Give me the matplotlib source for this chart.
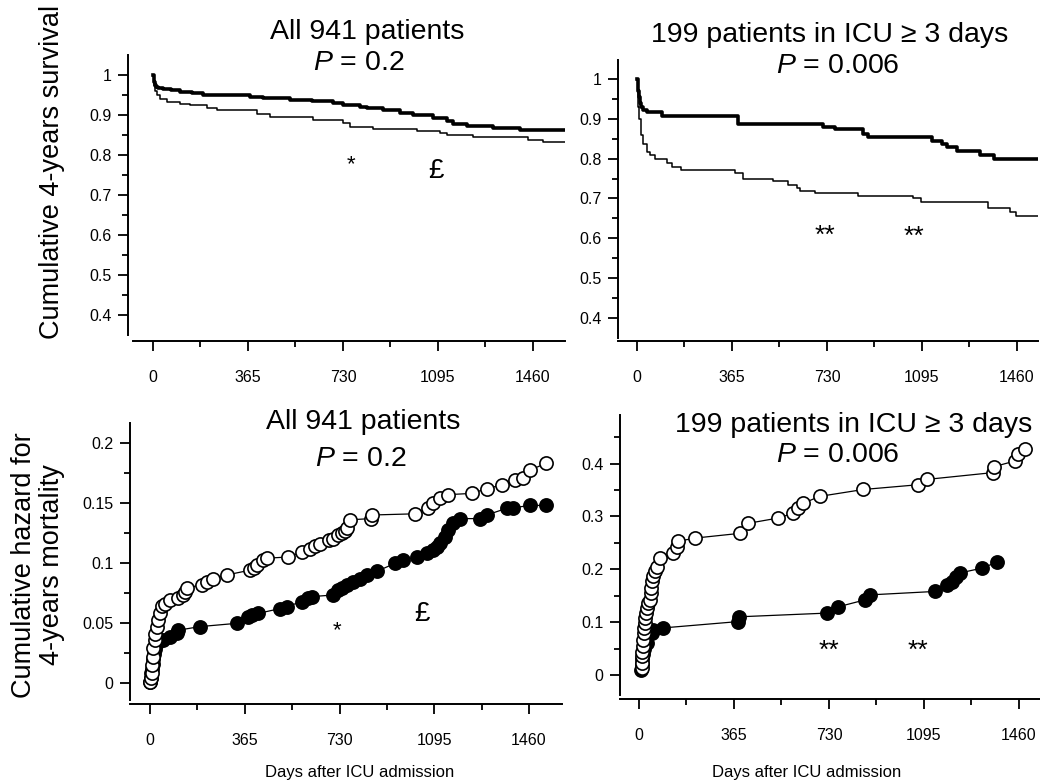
import numpy as np
import matplotlib.pyplot as plt
from matplotlib.ticker import FixedLocator

plt.rcParams['font.family'] = ['Liberation Sans', 'DejaVu Sans']
plt.rcParams['mathtext.fontset'] = 'custom'
plt.rcParams['mathtext.it'] = 'Liberation Sans:italic'
plt.rcParams['mathtext.rm'] = 'Liberation Sans'

W, H = 1040, 782

# --- Kaplan-Meier survival, all 941 patients (step points: day, survival)
all_thick_t = [0, 2, 4, 7, 12, 20, 40, 70, 104, 150, 193, 373, 424, 527, 610, 693, 731, 795, 821, 885,
               949, 1000, 1077, 1128, 1154, 1205, 1307, 1410, 1583]
all_thick_s = [1.0, 0.99, 0.982, 0.975, 0.97, 0.967, 0.965, 0.962, 0.958, 0.955, 0.95, 0.946, 0.943, 0.938,
               0.935, 0.93, 0.925, 0.921, 0.917, 0.912, 0.905, 0.9, 0.892, 0.885, 0.877, 0.873, 0.8675, 0.863, 0.8625]
all_thin_t = [0, 2, 5, 9, 14, 26, 52, 104, 142, 206, 245, 399, 450, 616, 731, 757, 847, 1013, 1103, 1128,
              1231, 1440, 1500, 1583]
all_thin_s = [1.0, 0.985, 0.972, 0.96, 0.95, 0.94, 0.933, 0.928, 0.924, 0.918, 0.912, 0.902, 0.895, 0.888,
              0.88, 0.871, 0.866, 0.861, 0.855, 0.85, 0.844, 0.838, 0.833, 0.833]

# --- Kaplan-Meier survival, 199 patients in ICU >= 3 days
icu_thick_t = [0, 2, 4, 6, 10, 15, 24, 40, 95, 389, 716, 761, 870, 889, 1133, 1171, 1190, 1229, 1318, 1370, 1541]
icu_thick_s = [1.0, 0.985, 0.97, 0.955, 0.94, 0.93, 0.922, 0.918, 0.907, 0.887, 0.879, 0.874, 0.863, 0.855,
               0.845, 0.836, 0.83, 0.82, 0.809, 0.8, 0.8]
icu_thin_t = [0, 2, 4, 8, 14, 24, 37, 50, 69, 114, 133, 171, 376, 408, 523, 581, 613, 626, 683, 850, 1061,
              1093, 1349, 1432, 1457, 1541]
icu_thin_s = [1.0, 0.96, 0.93, 0.9, 0.86, 0.838, 0.817, 0.81, 0.8, 0.79, 0.78, 0.772, 0.765, 0.748, 0.743,
              0.733, 0.725, 0.718, 0.714, 0.705, 0.7, 0.69, 0.676, 0.665, 0.657, 0.657]

# --- cumulative hazard, all 941 patients (day, hazard)
all_open_d = [0, 3, 6, 6, 12, 13, 19, 19, 26, 32, 38, 45, 58, 77, 109, 128, 135, 141, 199, 218, 244, 295,
              385, 400, 411, 437, 449, 533, 584, 616, 635, 655, 690, 706, 725, 738, 750, 758, 770, 850, 854,
              1021, 1072, 1091, 1117, 1149, 1239, 1297, 1355, 1406, 1437, 1464, 1525]
all_open_h = [0.001, 0.004, 0.008, 0.015, 0.022, 0.029, 0.036, 0.041, 0.047, 0.0525, 0.058, 0.064, 0.066,
              0.069, 0.071, 0.073, 0.076, 0.079, 0.082, 0.084, 0.087, 0.09, 0.094, 0.096, 0.098, 0.1025,
              0.104, 0.105, 0.109, 0.112, 0.114, 0.116, 0.119, 0.12, 0.123, 0.125, 0.127, 0.129, 0.136,
              0.137, 0.14, 0.141, 0.1456, 0.1497, 0.154, 0.157, 0.158, 0.162, 0.165, 0.169, 0.171, 0.1775, 0.183]
all_fill_d = [1, 3, 5, 8, 10, 12, 15, 18, 26, 51, 77, 103, 109, 193, 334, 379, 392, 417, 501, 527, 584, 610,
              623, 706, 725, 740, 758, 783, 809, 835, 873, 944, 976, 1027, 1066, 1091, 1105, 1117, 1136, 1149,
              1168, 1194, 1271, 1297, 1374, 1400, 1462, 1525]
all_fill_h = [0.001, 0.004, 0.008, 0.012, 0.016, 0.02, 0.024, 0.028, 0.033, 0.036, 0.0386, 0.0414, 0.044,
              0.047, 0.0497, 0.055, 0.0567, 0.058, 0.062, 0.0636, 0.0678, 0.0706, 0.072, 0.0733, 0.0775,
              0.079, 0.0817, 0.0844, 0.087, 0.09, 0.093, 0.0997, 0.1025, 0.105, 0.108, 0.111, 0.113, 0.1164,
              0.122, 0.1275, 0.133, 0.137, 0.137, 0.14, 0.1456, 0.146, 0.148, 0.148]

# --- cumulative hazard, 199 patients in ICU >= 3 days
icu_open_d = [10, 11, 12, 13, 14, 16, 18, 20, 22, 24, 26, 29, 35, 42, 46, 48, 50, 55, 62, 68, 81, 132, 145,
              151, 215, 388, 420, 535, 593, 612, 631, 695, 862, 1073, 1105, 1361, 1363, 1445, 1457, 1483]
icu_open_h = [0.0126, 0.022, 0.035, 0.044, 0.054, 0.066, 0.079, 0.088, 0.098, 0.107, 0.117, 0.126, 0.136,
              0.142, 0.155, 0.164, 0.177, 0.187, 0.196, 0.205, 0.221, 0.231, 0.243, 0.253, 0.259, 0.268,
              0.287, 0.297, 0.306, 0.316, 0.325, 0.338, 0.351, 0.36, 0.37, 0.383, 0.394, 0.405, 0.418, 0.427]
icu_fill_d = [8, 10, 12, 14, 18, 29, 49, 55, 93, 382, 384, 721, 766, 868, 887, 1137, 1182, 1201, 1220, 1233,
              1317, 1374]
icu_fill_h = [0.01, 0.02, 0.03, 0.04, 0.05, 0.06, 0.079, 0.085, 0.089, 0.101, 0.11, 0.117, 0.129, 0.142,
              0.1515, 0.158, 0.17, 0.176, 0.186, 0.193, 0.202, 0.213]

day_ticks = [0, 365, 730, 1095, 1460]

fig = plt.figure(figsize=(W / 100, H / 100), dpi=100)


def px_axes(left, right, top, bottom):
    return fig.add_axes([left / W, 1 - bottom / H, (right - left) / W, (bottom - top) / H])


def style(ax, xlim, ylim, yticks, ylabels, yminor, offset, xstart):
    ax.set_xlim(*xlim)
    ax.set_ylim(*ylim)
    for s in ['top', 'right']:
        ax.spines[s].set_visible(False)
    for s in ['left', 'bottom']:
        ax.spines[s].set_linewidth(1.4)
    ax.spines['bottom'].set_position(('outward', offset))
    ax.spines['bottom'].set_bounds(xstart, xlim[1])
    ax.xaxis.set_major_locator(FixedLocator(day_ticks))
    ax.xaxis.set_minor_locator(FixedLocator([182.5 + 365 * i for i in range(4)]))
    ax.set_xticklabels([str(d) for d in day_ticks])
    ax.yaxis.set_major_locator(FixedLocator(yticks))
    ax.set_yticklabels(ylabels)
    ax.yaxis.set_minor_locator(FixedLocator(yminor))
    ax.tick_params(which='major', direction='out', length=7, width=1.3, labelsize=11.5, color='black')
    ax.tick_params(which='minor', direction='out', length=4, width=1.3)
    ax.tick_params(axis='x', which='major', pad=14)
    ax.tick_params(axis='y', which='major', pad=5)
    ax.patch.set_visible(False)


# top-left
ax1 = px_axes(128, 565, 55, 335)
ax1.plot(all_thin_t, all_thin_s, drawstyle='steps-post', color='black', lw=1.1)
ax1.plot(all_thick_t, all_thick_s, drawstyle='steps-post', color='black', lw=2.6)
style(ax1, (-96, 1583), (0.35, 1.05), [0.4, 0.5, 0.6, 0.7, 0.8, 0.9, 1.0],
      ['0.4', '0.5', '0.6', '0.7', '0.8', '0.9', '1'], [0.45, 0.55, 0.65, 0.75, 0.85, 0.95], 4, -77)

# top-right
ax2 = px_axes(618, 1038, 60, 338)
ax2.plot(icu_thin_t, icu_thin_s, drawstyle='steps-post', color='black', lw=1.1)
ax2.plot(icu_thick_t, icu_thick_s, drawstyle='steps-post', color='black', lw=2.6)
style(ax2, (-73, 1541), (0.349, 1.048), [0.4, 0.5, 0.6, 0.7, 0.8, 0.9, 1.0],
      ['0.4', '0.5', '0.6', '0.7', '0.8', '0.9', '1'], [0.45, 0.55, 0.65, 0.75, 0.85, 0.95], 2, -73)

# bottom-left
mk = dict(color='black', lw=0.9, marker='o', ms=9.5, mec='black', mew=1.2)
ax3 = px_axes(130, 562, 423, 700)
ax3.plot(all_fill_d, all_fill_h, mfc='black', **mk)
ax3.plot(all_open_d, all_open_h, mfc='white', **mk)
style(ax3, (-77, 1587), (-0.0142, 0.2167), [0, 0.05, 0.1, 0.15, 0.2],
      ['0', '0.05', '0.1', '0.15', '0.2'], [0.025, 0.075, 0.125, 0.175], 3, -77)

# bottom-right
ax4 = px_axes(620, 1040, 415, 695)
ax4.plot(icu_fill_d, icu_fill_h, mfc='black', **mk)
ax4.plot(icu_open_d, icu_open_h, mfc='white', **mk)
style(ax4, (-73, 1541), (-0.038, 0.492), [0, 0.1, 0.2, 0.3, 0.4],
      ['0', '0.1', '0.2', '0.3', '0.4'], [0.05, 0.15, 0.25, 0.35, 0.45], 3, -73)


def ftext(x, y, s, va='center', **kw):
    fig.text(x / W, 1 - y / H, s, ha='center', va=va, **kw)


ftext(367, 32, 'All 941 patients', fontsize=20.5)
ftext(359, 63, '$P$ = 0.2', fontsize=20.5)
ftext(830, 35, '199 patients in ICU ≥ 3 days', fontsize=20.5)
ftext(838, 66, '$P$ = 0.006', fontsize=20.5)
ftext(363, 422, 'All 941 patients', fontsize=20.5)
ftext(361, 459, '$P$ = 0.2', fontsize=20.5)
ftext(854, 425, '199 patients in ICU ≥ 3 days', fontsize=20.5)
ftext(838, 455, '$P$ = 0.006', fontsize=20.5)

ftext(52, 172, 'Cumulative 4-years survival', fontsize=19.5, rotation=90)
ftext(38, 565, 'Cumulative hazard for\n4-years mortality', fontsize=19.5, rotation=90, linespacing=1.1)

ftext(360, 773, 'Days after ICU admission', fontsize=12)
ftext(807, 772, 'Days after ICU admission', fontsize=12)

# significance marks
ftext(351, 170, '*', va='baseline', fontsize=16)
ftext(436, 178, '£', va='baseline', fontsize=20)
ftext(825, 243, '**', va='baseline', fontsize=19)
ftext(914, 244, '**', va='baseline', fontsize=19)
ftext(337, 636, '*', va='baseline', fontsize=16)
ftext(422, 621, '£', va='baseline', fontsize=20)
ftext(829, 658, '**', va='baseline', fontsize=19)
ftext(918, 658, '**', va='baseline', fontsize=19)

fig.savefig('out.png', dpi=100)
